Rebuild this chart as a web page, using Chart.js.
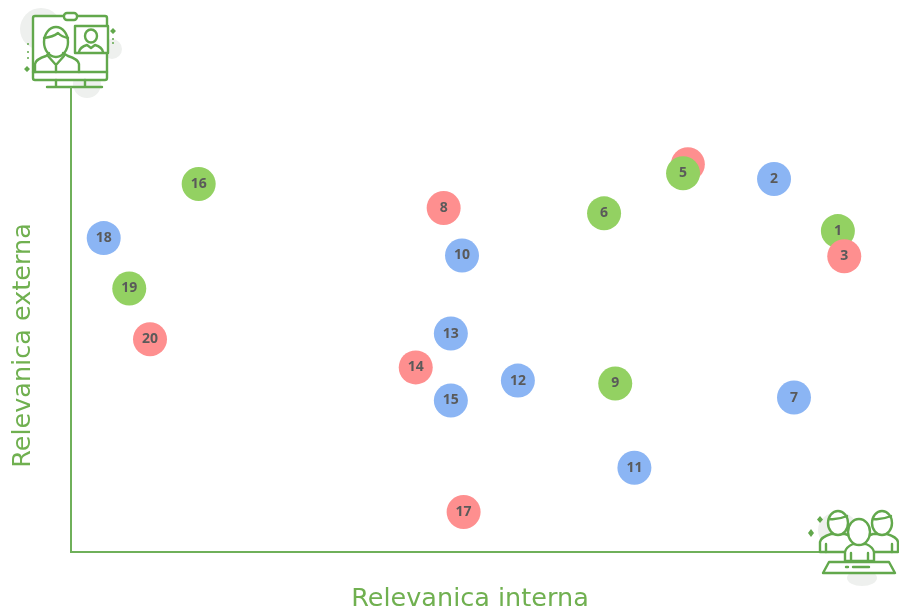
<!DOCTYPE html>
<html>
<head>
<meta charset="utf-8">
<style>
    html, body { margin: 0; padding: 0; background: #fff; overflow: hidden; }
    #wrap { position: relative; width: 899px; height: 615px; }
    #myChart { position: absolute; left: 0; top: 0; filter: blur(0.4px); }
    .icon { position: absolute; left: 0; top: 0; filter: blur(0.6px); }
    .icon .l { fill: none; stroke: #62a84c; stroke-width: 2.4; stroke-linecap: round; stroke-linejoin: round; }
    .icon .w { fill: #fff; stroke: #62a84c; stroke-width: 2.4; stroke-linejoin: round; }
    .icon .b { fill: #eef0ee; }
    .icon .d { fill: #62a84c; }
</style>
</head>
<body>
<div id="wrap">
    <canvas id="myChart" width="899" height="615"></canvas>
    <svg class="icon" width="899" height="615" viewBox="0 0 899 615">
        <!-- monitor -->
        <circle class="b" cx="41" cy="29" r="21"/>
        <circle class="b" cx="112" cy="49" r="10"/>
        <circle class="b" cx="87" cy="84" r="14"/>
        <rect class="w" x="33" y="16" width="74" height="64" rx="2"/>
        <rect class="w" x="64" y="13" width="13" height="7" rx="3"/>
        <line class="l" x1="33" y1="72" x2="107" y2="72"/>
        <path class="l" d="M56 80 V86 M85 80 V86 M47 87 H102"/>
        <path class="l" d="M35 72 V64 Q36 59 46 56 L49 53 M79 72 V64 Q78 59 68 56 L63 53 M48 56 L56 65 L64 56 M56 65 V72"/>
        <ellipse class="l" cx="56" cy="42" rx="12" ry="15"/>
        <path class="l" d="M44 38 Q53 37 58 33 Q62 37 68 38"/>
        <rect class="w" x="75" y="26" width="33" height="27"/>
        <ellipse class="l" cx="91" cy="36" rx="6" ry="6.5"/>
        <path class="l" d="M79 52 Q80 47 87 45 L91 48 L95 45 Q102 47 103 52"/>
        <path class="d" d="M113 28 L116 31 L113 34 L110 31 Z M27 66 L30 69 L27 72 L24 69 Z"/>
        <circle class="d" cx="113" cy="39" r="1"/><circle class="d" cx="113" cy="43" r="1"/>
        <circle class="d" cx="28" cy="44" r="1"/><circle class="d" cx="28" cy="52" r="1"/><circle class="d" cx="28" cy="58" r="1"/>
        <!-- eje -->
        <line x1="71" y1="87" x2="71" y2="140" stroke="#6fb05a" stroke-width="2"/>
        <!-- team -->
        <rect x="821" y="548" width="78" height="6" fill="#fff"/>
        <ellipse class="b" cx="838" cy="530" rx="20" ry="18"/>
        <ellipse class="b" cx="862" cy="578" rx="15" ry="8"/>
        <path class="w" d="M820 552 V542 Q821 537 831 534 H845 Q855 537 856 542 V552 Z"/>
        <path class="w" d="M862 552 V542 Q863 537 873 534 H887 Q897 537 898 542 V552 Z"/>
        <ellipse class="w" cx="838" cy="523" rx="10" ry="12"/>
        <ellipse class="w" cx="882" cy="523" rx="10" ry="12"/>
        <path class="l" d="M829 519 Q838 520 847 516 M873 519 Q882 520 891 516"/>
        <path class="w" d="M845 561 V552 Q846 547 853 544 H866 Q873 547 874 552 V561 Z"/>
        <path class="l" d="M851 561 V553 M868 561 V553 M826 552 V544 M892 552 V544"/>
        <ellipse class="w" cx="859" cy="532" rx="11" ry="13"/>
        <path class="w" d="M829 562 H889 L895 573 H823 Z"/>
        <path class="l" d="M846 567 H848 M853 567 H869"/>
        <path class="d" d="M820 516 L823 519.5 L820 523 L817 519.5 Z M811 529 L814 533 L811 537 L808 533 Z"/>
    </svg>
</div>
<script src="https://cdn.jsdelivr.net/npm/chart.js@4/dist/chart.umd.min.js"></script>
<script>
const labels = ['1', '2', '3', '', '5', '6', '7', '8', '9', '10', '11', '12', '13', '14', '15', '16', '17', '18', '19', '20'];
const xValues = [96.1, 88.1, 96.9, 77.3, 76.7, 66.8, 90.6, 46.7, 68.2, 49.0, 70.6, 56.0, 47.6, 43.2, 47.6, 16.0, 49.2, 4.1, 7.3, 9.9];
const yValues = [77.7, 90.3, 71.6, 93.9, 91.7, 82.0, 37.4, 83.3, 40.8, 71.8, 20.4, 41.5, 52.9, 44.7, 36.7, 89.1, 9.7, 76.0, 63.8, 51.5];
const groups = ['g', 'b', 'r', 'r', 'g', 'g', 'b', 'r', 'g', 'b', 'b', 'b', 'b', 'r', 'b', 'g', 'r', 'b', 'g', 'r'];
const groupColors = { g: '#93d162', b: '#8bb5f4', r: '#fe8f8f' };

const axisColor = '#6fb05a';
const titleColor = '#70b050';

// numeros encima de los circulos
const pointLabels = {
    id: 'pointLabels',
    afterDatasetsDraw(chart) {
        const ctx = chart.ctx;
        const points = chart.getDatasetMeta(0).data;
        ctx.save();
        ctx.font = 'bold 14px "Open Sans"';
        ctx.fillStyle = '#5a5a5a';
        ctx.textAlign = 'center';
        ctx.textBaseline = 'middle';
        points.forEach((p, i) => {
            ctx.fillText(labels[i], p.x, p.y);
        });
        ctx.restore();
    }
};

const data = {
    datasets: [{
        label: 'temas',
        data: xValues.map((x, i) => ({ x: x, y: yValues[i] })),
        backgroundColor: groups.map(g => groupColors[g]),
        borderWidth: 0,
        pointRadius: 17,
        pointHoverRadius: 17,
        clip: false
    }]
};

const config = {
    type: 'scatter',
    data: data,
    plugins: [pointLabels],
    options: {
        responsive: false,
        animation: false,
        layout: { padding: { top: 139, right: 30, left: 0, bottom: 0 } },
        plugins: { legend: { display: false }, tooltip: { enabled: false } },
        scales: {
            x: {
                min: 0,
                max: 100,
                grid: { display: false },
                ticks: { display: false },
                border: { color: axisColor, width: 2 },
                title: {
                    display: true,
                    text: 'Relevanica interna',
                    color: titleColor,
                    font: { family: 'DejaVu Sans', size: 25.5 },
                    padding: { top: 0, bottom: 0 }
                },
                afterFit: s => { s.height = 63; }
            },
            y: {
                min: 0,
                max: 100,
                grid: { display: false },
                ticks: { display: false },
                border: { color: axisColor, width: 2 },
                title: {
                    display: true,
                    text: 'Relevanica externa',
                    color: titleColor,
                    font: { family: 'DejaVu Sans', size: 25.5 },
                    padding: { top: 8, bottom: 0 }
                },
                afterFit: s => { s.width = 71; }
            }
        }
    }
};

const myChart = new Chart(document.getElementById('myChart'), config);
</script>
</body>
</html>
